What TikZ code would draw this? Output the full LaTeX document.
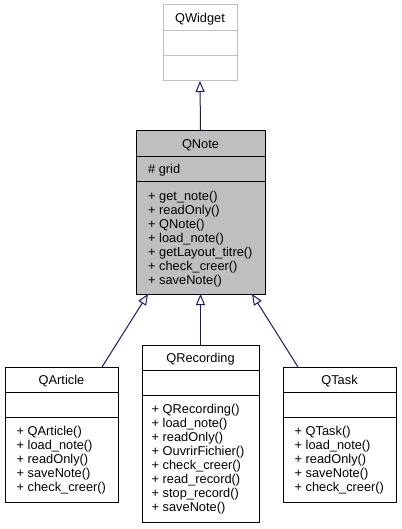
\documentclass[tikz,border=0pt]{standalone}
\usepackage{fontspec}
\setmainfont{Liberation Sans}
\usetikzlibrary{arrows.meta,calc}
\definecolor{edgeblue}{HTML}{191970}
\definecolor{notegray}{HTML}{BFBFBF}
\definecolor{widgetgray}{HTML}{BFBFBF}
\begin{document}
\begin{tikzpicture}[x=1pt,y=-1pt,
  every node/.style={font=\fontsize{12.8}{14}\selectfont},
  classbox/.style={draw=black, line width=1pt, fill=white, inner sep=0pt, outer sep=0pt},
  basebox/.style={draw=widgetgray, line width=1pt, fill=white, inner sep=0pt, outer sep=0pt},
  focusbox/.style={draw=black, line width=1pt, fill=notegray, inner sep=0pt, outer sep=0pt},
  divider/.style={line width=1pt},
  titletext/.style={anchor=base, inner sep=0pt},
  membertext/.style={anchor=base west, inner sep=0pt},
  inherit/.style={draw=edgeblue, line width=1pt, -{Triangle[open, length=11pt, width=9pt]}}
]
\useasboundingbox (0,0) rectangle (401,529);
\fill[white] (0,0) rectangle (401,529);

% QWidget
\node[basebox, minimum width=74pt, minimum height=76pt] (qwidget) at (200,43) {};
\draw[divider, draw=widgetgray] ($(qwidget.north west)+(0,26)$) -- ($(qwidget.north east)+(0,26)$);
\draw[divider, draw=widgetgray] ($(qwidget.north west)+(0,51)$) -- ($(qwidget.north east)+(0,51)$);
\node[titletext] (qwidget-t) at (200,22.6) {QWidget};

% QNote
\node[focusbox, minimum width=129pt, minimum height=163pt] (qnote) at (200.5,212.5) {};
\draw[divider] ($(qnote.north west)+(0,26)$) -- ($(qnote.north east)+(0,26)$);
\draw[divider] ($(qnote.north west)+(0,51)$) -- ($(qnote.north east)+(0,51)$);
\node[titletext] (qnote-t) at (200.5,148.6) {QNote};
\node[membertext] (qnote-a1) at (148,173.6) {\# grid};
\foreach \txt [count=\i] in {+ get\_note(), + readOnly(), + QNote(), + load\_note(), + getLayout\_titre(), + check\_creer(), + saveNote()}
  \node[membertext] (qnote-m\i) at (148,{182+14*\i+4.6}) {\txt};

% QArticle
\node[classbox, minimum width=113pt, minimum height=135pt] (qarticle) at (61.5,434.5) {};
\draw[divider] ($(qarticle.north west)+(0,25)$) -- ($(qarticle.north east)+(0,25)$);
\draw[divider] ($(qarticle.north west)+(0,50)$) -- ($(qarticle.north east)+(0,50)$);
\node[titletext] (qarticle-t) at (61.5,384.1) {QArticle};
\foreach \txt [count=\i] in {+ QArticle(), + load\_note(), + readOnly(), + saveNote(), + check\_creer()}
  \node[membertext] (qarticle-m\i) at (16.5,{417+14*\i+4.6}) {\txt};

% QRecording
\node[classbox, minimum width=117pt, minimum height=177pt] (qrecording) at (200.5,433.5) {};
\draw[divider] ($(qrecording.north west)+(0,25)$) -- ($(qrecording.north east)+(0,25)$);
\draw[divider] ($(qrecording.north west)+(0,50)$) -- ($(qrecording.north east)+(0,50)$);
\node[titletext] (qrecording-t) at (200.5,362.1) {QRecording};
\foreach \txt [count=\i] in {+ QRecording(), + load\_note(), + readOnly(), + OuvrirFichier(), + check\_creer(), + read\_record(), + stop\_record(), + saveNote()}
  \node[membertext] (qrecording-m\i) at (151.5,{395+14*\i+4.6}) {\txt};

% QTask
\node[classbox, minimum width=113pt, minimum height=135pt] (qtask) at (339.5,434.5) {};
\draw[divider] ($(qtask.north west)+(0,25)$) -- ($(qtask.north east)+(0,25)$);
\draw[divider] ($(qtask.north west)+(0,50)$) -- ($(qtask.north east)+(0,50)$);
\node[titletext] (qtask-t) at (339.5,384.1) {QTask};
\foreach \txt [count=\i] in {+ QTask(), + load\_note(), + readOnly(), + saveNote(), + check\_creer()}
  \node[membertext] (qtask-m\i) at (294.5,{417+14*\i+4.6}) {\txt};

% inheritance
\draw[inherit] (qnote.north) -- (qwidget.south);
\draw[inherit] (qrecording.north) -- (qnote.south);
\draw[inherit] ($(qarticle.north west)+(97,0)$) -- ($(qnote.south west)+(12,0)$);
\draw[inherit] ($(qtask.north west)+(15,0)$) -- ($(qnote.south east)+(-13,0)$);
\end{tikzpicture}
\end{document}
